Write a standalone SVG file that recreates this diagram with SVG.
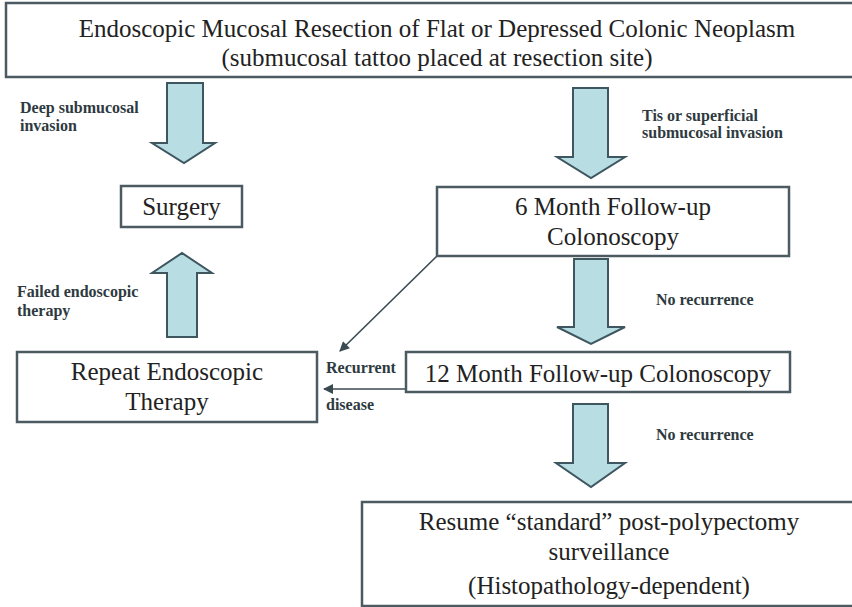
<svg xmlns="http://www.w3.org/2000/svg" width="852" height="607" viewBox="0 0 852 607">
<defs>
<style>
.box{fill:#ffffff;stroke:#4c5b61;stroke-width:2.5}
.t{font-family:'Liberation Serif','DejaVu Serif',serif;font-size:25px;fill:#222;text-anchor:middle}
.lb{font-family:'Liberation Serif','DejaVu Serif',serif;font-size:16px;font-weight:bold;fill:#2e3a40}
.blk{fill:#b8dde3;stroke:#3e5660;stroke-width:2;stroke-linejoin:miter}
.ln{fill:none;stroke:#3a4a50;stroke-width:1.6}
</style>
<marker id="ah2" viewBox="0 0 10 10" refX="9" refY="5" markerWidth="12" markerHeight="10" markerUnits="userSpaceOnUse" orient="auto">
<path d="M0,0 L10,5 L0,10 z" fill="#3a4a50"/>
</marker>
</defs>
<rect width="852" height="607" fill="#ffffff"/>

<g id="connectors">
<polygon class="blk" points="167,83 203,83 203,143 215,143 184,163 152,143 167,143"/>
<polygon class="blk" points="573,88 608,88 608,157 625,157 591,178 557,157 573,157"/>
<polygon class="blk" points="574,259 608,259 608,327 625,327 591,344 557,327 574,327"/>
<polygon class="blk" points="573,404 608,404 608,463 625,463 591,487 556,463 573,463"/>
<polygon class="blk" points="167,337 197,337 197,273 212,273 182,253 152,273 167,273"/>
<line class="ln" x1="437" y1="256" x2="340" y2="351" marker-end="url(#ah2)"/>
<line class="ln" x1="406" y1="389" x2="324" y2="389" marker-end="url(#ah2)"/>
<text class="lb" x="20" y="113">Deep submucosal</text>
<text class="lb" x="20" y="131">invasion</text>
<text class="lb" x="642" y="121">Tis or superficial</text>
<text class="lb" x="642" y="138">submucosal invasion</text>
<text class="lb" x="17" y="297">Failed endoscopic</text>
<text class="lb" x="17" y="316">therapy</text>
<text class="lb" x="656" y="305">No recurrence</text>
<text class="lb" x="656" y="440">No recurrence</text>
<text class="lb" x="326" y="373">Recurrent</text>
<text class="lb" x="326" y="410">disease</text>
</g>

<g id="node-emr">
<rect class="box" x="6" y="3" width="852" height="74"/>
<text class="t" x="437" y="37">Endoscopic Mucosal Resection of Flat or Depressed Colonic Neoplasm</text>
<text class="t" x="437" y="66">(submucosal tattoo placed at resection site)</text>
</g>

<g id="node-surgery">
<rect class="box" x="121" y="186" width="121" height="41"/>
<text class="t" x="181.5" y="215">Surgery</text>
</g>

<g id="node-6month">
<rect class="box" x="437" y="187" width="352" height="69"/>
<text class="t" x="613" y="215">6 Month Follow-up</text>
<text class="t" x="613" y="245">Colonoscopy</text>
</g>

<g id="node-repeat">
<rect class="box" x="17" y="352" width="300" height="70"/>
<text class="t" x="167" y="380">Repeat Endoscopic</text>
<text class="t" x="167" y="410">Therapy</text>
</g>

<g id="node-12month">
<rect class="box" x="406" y="352" width="384" height="40"/>
<text class="t" x="598" y="382">12 Month Follow-up Colonoscopy</text>
</g>

<g id="node-resume">
<rect class="box" x="362" y="502" width="500" height="104"/>
<text class="t" x="609" y="530">Resume “standard” post-polypectomy</text>
<text class="t" x="609" y="560">surveillance</text>
<text class="t" x="609" y="594">(Histopathology-dependent)</text>
</g>
</svg>
